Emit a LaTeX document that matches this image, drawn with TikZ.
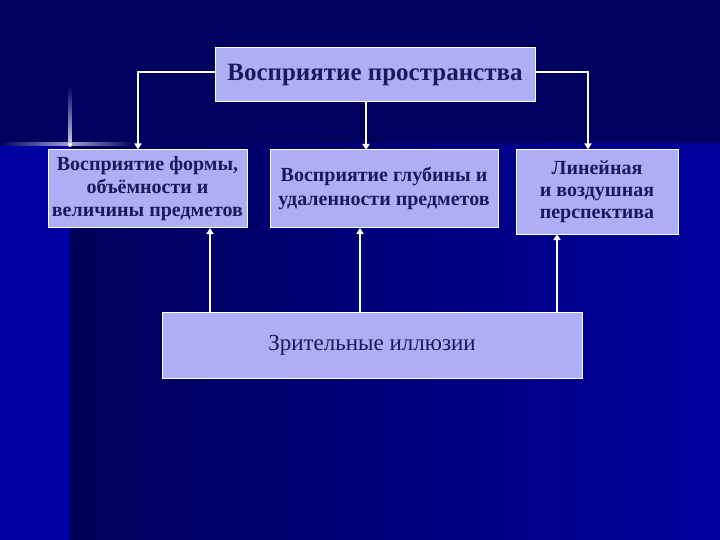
\documentclass[tikz,border=0pt]{standalone}
\usepackage{fontspec}
\setmainfont{Liberation Serif}
\usetikzlibrary{arrows.meta}
\definecolor{bgtop}{HTML}{00005E}
\definecolor{bgleft}{HTML}{0000A0}
\definecolor{bgdark}{HTML}{00005A}
\definecolor{bgright}{HTML}{00009E}
\definecolor{boxfill}{HTML}{AEAEF6}
\definecolor{txt}{HTML}{1A1A5A}
\tikzset{
  box/.style={draw=white, line width=1pt, fill=boxfill, text=txt, align=center, inner sep=0pt, font=\bfseries},
  conn/.style={white, line width=1.8pt, -{Triangle[width=7pt,length=6pt]}},
}
\begin{document}
\begin{tikzpicture}[x=1pt,y=-1pt]
\useasboundingbox (0,0) rectangle (720,540);
% background
\fill[bgtop] (0,0) rectangle (720,144);
\fill[bgleft] (0,144) rectangle (70,540);
\shade[left color=bgdark, right color=bgright] (70,144) rectangle (720,540);
% sparkle
\shade[left color=bgtop, right color=white!70!bgleft, opacity=0.9] (0,143) rectangle (70,146);
\shade[left color=white!70!bgleft, right color=bgtop, opacity=0.9] (70,143) rectangle (135,146);
\shade[top color=bgtop, bottom color=white!80!bgleft] (68.5,85) rectangle (71.5,145);
\fill[white] (70,145) circle (2);
% nodes
\node[box, minimum width=320, minimum height=54, font=\bfseries\fontsize{25}{28}\selectfont] (top) at (375,75) {Восприятие пространства};
\node[box, minimum width=199, minimum height=78, font=\bfseries\fontsize{20}{23}\selectfont] (left) at (147.5,189) {Восприятие формы,\\объёмности и\\величины предметов};
\node[box, minimum width=228, minimum height=78, font=\bfseries\fontsize{20}{24}\selectfont] (mid) at (384,189) {Восприятие глубины и\\удаленности предметов};
\node[box, minimum width=162, minimum height=84, font=\bfseries\fontsize{20}{22}\selectfont] (right) at (597,192) {Линейная\\и воздушная\\перспектива};
\node[box, minimum width=420, minimum height=66, font=\fontsize{23}{26}\selectfont] (bot) at (372,345) {Зрительные иллюзии};
% connectors
\coordinate (tl) at (138,72);
\coordinate (tr) at (588,72);
\draw[conn] (top.west |- tl) -- (tl) -- (tl |- left.north);
\draw[conn] (top.east |- tr) -- (tr) -- (tr |- right.north);
\draw[conn] (366,102) -- (366,150);
\draw[conn] (210,312) -- (210,228);
\draw[conn] (360,312) -- (360,228);
\draw[conn] (557,312) -- (557,234);
\end{tikzpicture}
\end{document}
